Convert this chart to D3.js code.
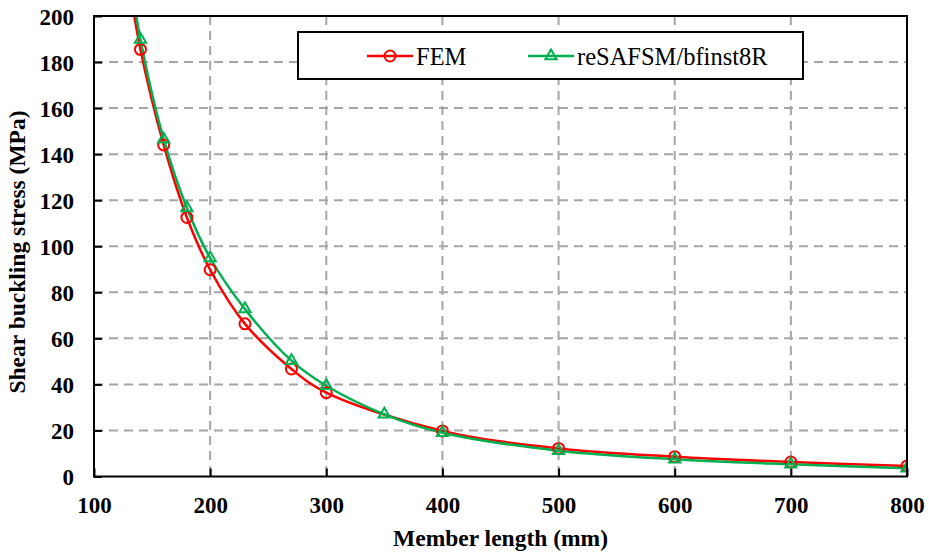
<!DOCTYPE html>
<html>
<head>
<meta charset="utf-8">
<script src="https://cdn.jsdelivr.net/npm/d3@7"></script>
<style>
  html, body { margin: 0; padding: 0; background: #fff; }
  svg { display: block; }
  text { font-family: "Liberation Serif", "Times New Roman", serif; }
</style>
</head>
<body>
<div id="chart"></div>
<script>
// Member length (mm) and shear buckling stress (MPa) for each method
const femLength   = [130, 140, 160, 180, 200, 230, 270, 300, 400, 500, 600, 700, 800];
const femStress   = [215, 185.5, 144, 112.5, 89.8, 66.3, 46.7, 36.4, 19.8, 12.2, 8.6, 6.3, 4.6];
const safsmLength = [130, 140, 160, 180, 200, 230, 270, 300, 350, 400, 500, 600, 700, 800];
const safsmStress = [221, 189.8, 146.5, 116.6, 94.9, 72.7, 50.3, 39.4, 27.0, 19.0, 11.2, 7.5, 5.3, 3.6];

const xTicks = [100, 200, 300, 400, 500, 600, 700, 800];
const yTicks = [0, 20, 40, 60, 80, 100, 120, 140, 160, 180, 200];

const seriesNames = ["FEM", "reSAFSM/bfinst8R"];
const seriesColors = ["#ff0000", "#00b050"];

const W = 929, H = 557;
const margin = { left: 94, right: 22, top: 16, bottom: 80.5 };
const iw = W - margin.left - margin.right;
const ih = H - margin.top - margin.bottom;

const svg = d3.select("#chart").append("svg").attr("width", W).attr("height", H);
const g = svg.append("g").attr("transform", `translate(${margin.left},${margin.top})`);

const x = d3.scaleLinear().domain([100, 800]).range([0, iw]);
const y = d3.scaleLinear().domain([0, 200]).range([ih, 0]);

// dashed grid
const gridColor = "#a6a6a6";
g.append("g").selectAll("line.h").data(yTicks.slice(1, -1)).join("line")
  .attr("x1", 0).attr("x2", iw)
  .attr("y1", d => y(d)).attr("y2", d => y(d))
  .attr("stroke", gridColor).attr("stroke-width", 2).attr("stroke-dasharray", "9,6");
g.append("g").selectAll("line.v").data(xTicks.slice(1, -1)).join("line")
  .attr("y1", 0).attr("y2", ih)
  .attr("x1", d => x(d)).attr("x2", d => x(d))
  .attr("stroke", gridColor).attr("stroke-width", 2).attr("stroke-dasharray", "9,6");

// axes with inward ticks
const xAxis = g.append("g").attr("transform", `translate(0,${ih})`)
  .call(d3.axisBottom(x).tickValues(xTicks).tickSize(-8).tickPadding(18).tickFormat(d3.format("d")));
const yAxis = g.append("g")
  .call(d3.axisLeft(y).tickValues(yTicks).tickSize(-8).tickPadding(20).tickFormat(d3.format("d")));
[xAxis, yAxis].forEach(a => {
  a.select(".domain").remove();
  a.selectAll(".tick line").attr("stroke", "#000").attr("stroke-width", 2);
  a.selectAll(".tick text").attr("fill", "#000")
    .style("font-size", "23px").style("font-weight", "bold")
    .style("font-family", '"Liberation Serif", "Times New Roman", serif');
});
xAxis.selectAll(".tick text").attr("dy", null).attr("y", 36);
yAxis.selectAll(".tick text").attr("x", -20).attr("dy", "0.35em");

// clip for the curves
svg.append("defs").append("clipPath").attr("id", "plotClip")
  .append("rect").attr("x", 0).attr("y", 0).attr("width", iw).attr("height", ih);

const series = [
  { name: seriesNames[0], color: seriesColors[0], pts: femLength.map((v, i) => [v, femStress[i]]), marker: "circle" },
  { name: seriesNames[1], color: seriesColors[1], pts: safsmLength.map((v, i) => [v, safsmStress[i]]), marker: "triangle" }
];

const line = d3.line().x(d => x(d[0])).y(d => y(d[1])).curve(d3.curveCatmullRom.alpha(0.5));
const plot = g.append("g").attr("clip-path", "url(#plotClip)");

const triSym = d3.symbol().type(d3.symbolTriangle).size(55);

function drawMarker(sel, s) {
  if (s.marker === "circle") {
    sel.append("circle").attr("r", 5.5).attr("fill", "none")
      .attr("stroke", s.color).attr("stroke-width", 2);
  } else {
    sel.append("path").attr("d", triSym).attr("fill", "none")
      .attr("stroke", s.color).attr("stroke-width", 2);
  }
}

series.forEach(s => {
  plot.append("path").datum(s.pts).attr("d", line)
    .attr("fill", "none").attr("stroke", s.color).attr("stroke-width", 2.5);
});
series.forEach(s => {
  s.pts.forEach(p => {
    const m = plot.append("g").attr("transform", `translate(${x(p[0])},${y(p[1])})`);
    drawMarker(m, s);
  });
});

// plot frame
g.append("rect").attr("x", 0).attr("y", 0).attr("width", iw).attr("height", ih)
  .attr("fill", "none").attr("stroke", "#000").attr("stroke-width", 2);

// legend
const leg = svg.append("g");
leg.append("rect").attr("x", 298).attr("y", 32).attr("width", 505).attr("height", 47)
  .attr("fill", "#fff").attr("stroke", "#000").attr("stroke-width", 2);
const legX = [367, 528];
series.forEach((s, i) => {
  const lg = leg.append("g").attr("transform", `translate(${legX[i]},56)`);
  lg.append("line").attr("x1", 0).attr("x2", 46).attr("y1", 0).attr("y2", 0)
    .attr("stroke", s.color).attr("stroke-width", 2.5);
  const m = lg.append("g").attr("transform", "translate(23,0)");
  drawMarker(m, s);
  lg.append("text").attr("x", 49).attr("y", 0).attr("dy", "0.35em")
    .style("font-size", "24.5px").attr("fill", "#000").text(s.name);
});

// axis titles
svg.append("text").attr("x", margin.left + iw / 2).attr("y", 546)
  .attr("text-anchor", "middle").style("font-size", "23.5px").style("font-weight", "bold")
  .text("Member length (mm)");
svg.append("text").attr("transform", "translate(25,252) rotate(-90)")
  .attr("text-anchor", "middle").style("font-size", "23.5px").style("font-weight", "bold")
  .text("Shear buckling stress (MPa)");
</script>
</body>
</html>
